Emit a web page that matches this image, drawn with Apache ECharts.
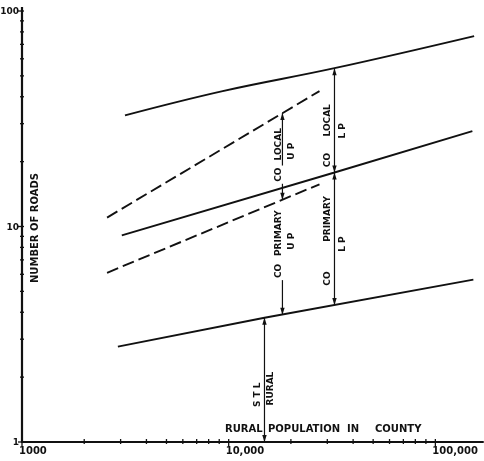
<!DOCTYPE html>
<html>
<head>
<meta charset="utf-8">
<script src="https://cdn.jsdelivr.net/npm/echarts@6/dist/echarts.min.js"></script>
<style>
  html, body { margin: 0; padding: 0; background: #fff; }
  #chart { width: 484px; height: 461px; }
</style>
</head>
<body>
<div id="chart"></div>
<script>
// Number of roads against rural population in county, both on log scales.
const xMajorTicks = [1000, 10000, 100000];
const xMinorTicks = [2000, 3000, 4000, 5000, 6000, 7000, 8000, 9000,
                     20000, 30000, 40000, 50000, 60000, 70000, 80000, 90000];
const yMajorTicks = [1, 10, 100];
const yMinorTicks = [2, 3, 4, 5, 6, 7, 8, 9, 20, 30, 40, 50, 60, 70, 80, 90];

// Trend lines: [rural population, number of roads]
const stlRural    = [[2910, 2.77], [14900, 3.77], [152700, 5.67]];
const coPrimaryLP = [[3040, 9.1], [32500, 17.8], [151000, 27.7]];
const coLocalLP   = [[3150, 32.8], [9350, 42.5], [32500, 54.3], [154000, 76.5]];
const coPrimaryUP = [[2580, 6.1], [27500, 15.7]];
const coLocalUP   = [[2580, 11.0], [27500, 42.5]];

// Ratio arrows between lines: population, lower end, upper end
const arrowX    = [14900, 18200, 18200, 32500, 32500];
const arrowLow  = [1, 13.3, 3.9, 17.8, 4.32];
const arrowHigh = [3.77, 33.6, 13.3, 54.3, 17.8];
const arrowLeftText  = [['S T L'], ['LOCAL', 'CO'], ['PRIMARY', 'CO'], ['LOCAL', 'CO'], ['PRIMARY', 'CO']];
const arrowRightText = ['RURAL', 'U P', 'U P', 'L P', 'L P'];

const INK = '#111';
const FONT = '"DejaVu Sans", "Liberation Sans", sans-serif';

// Label placement along each arrow (fractions measured from the top end)
const arrowLayout = [
  { dxL: -7,   dxR: 6, fL: [0.62],      fR: 0.57, headTop: true, headBottom: true, lineFrom: 0 },
  { dxL: -3.5, dxR: 9, fL: [0.36, 0.71], fR: 0.44, headTop: true, headBottom: true, lineFrom: 0 },
  { dxL: -3.5, dxR: 9, fL: [0.29, 0.62], fR: 0.36, headTop: false, headBottom: true, lineFrom: 0.6 },
  { dxL: -6.5, dxR: 8, fL: [0.50, 0.88], fR: 0.60, headTop: true, headBottom: true, lineFrom: 0 },
  { dxL: -6.5, dxR: 8, fL: [0.35, 0.80], fR: 0.54, headTop: true, headBottom: true, lineFrom: 0 }
];

function fmtTick(v) {
  return v >= 10000 ? v.toLocaleString('en-US') : String(v);
}

const tickData = [];
xMajorTicks.forEach(v => tickData.push([v, 1, 0, 1]));
xMinorTicks.forEach(v => tickData.push([v, 1, 0, 0]));
yMajorTicks.forEach(v => tickData.push([1000, v, 1, 1]));
yMinorTicks.forEach(v => tickData.push([1000, v, 1, 0]));

const arrowData = arrowX.map((x, i) => [x, arrowLow[i], arrowHigh[i], i]);

function renderTick(params, api) {
  const x = api.value(0), y = api.value(1);
  const isY = api.value(2), major = api.value(3);
  const p = api.coord([x, y]);
  const kids = [];
  if (!isY) {
    kids.push({ type: 'line', shape: { x1: p[0], y1: p[1] - 3, x2: p[0], y2: p[1] + (major ? 4 : 2) },
      style: { stroke: INK, lineWidth: 1.3 } });
    if (major) {
      kids.push({ type: 'text', x: p[0] - 3, y: p[1] + 4,
        style: { text: fmtTick(x), font: 'bold 10px ' + FONT, fill: INK, align: 'left', verticalAlign: 'top' } });
    }
  } else {
    kids.push({ type: 'line', shape: { x1: p[0] - (major ? 4 : 2), y1: p[1], x2: p[0] + 2, y2: p[1] },
      style: { stroke: INK, lineWidth: 1.3 } });
    if (major) {
      kids.push({ type: 'text', x: p[0] - 3, y: p[1] + 1,
        style: { text: fmtTick(y), font: 'bold 9px ' + FONT, fill: INK, align: 'right', verticalAlign: 'middle' } });
    }
  }
  return { type: 'group', children: kids };
}

function vText(text, x, y, bg) {
  const el = { type: 'text', x: x, y: y, rotation: Math.PI / 2,
    style: { text: text, font: 'bold 9px ' + FONT, fill: INK, align: 'center', verticalAlign: 'middle' } };
  if (bg) {
    el.style.backgroundColor = '#fff';
    el.style.padding = [1, 2];
  }
  return el;
}

function renderArrow(params, api) {
  const i = api.value(3);
  const lay = arrowLayout[i];
  const lo = api.coord([api.value(0), api.value(1)]);
  const hi = api.coord([api.value(0), api.value(2)]);
  const x = hi[0], top = hi[1], bot = lo[1], len = bot - top;
  const kids = [];
  kids.push({ type: 'line', shape: { x1: x, y1: top + len * lay.lineFrom, x2: x, y2: bot },
    style: { stroke: INK, lineWidth: 1.2 } });
  if (lay.headTop) {
    kids.push({ type: 'polygon', shape: { points: [[x, top], [x - 2.2, top + 7], [x + 2.2, top + 7]] },
      style: { fill: INK } });
  }
  if (lay.headBottom) {
    kids.push({ type: 'polygon', shape: { points: [[x, bot], [x - 2.2, bot - 7], [x + 2.2, bot - 7]] },
      style: { fill: INK } });
  }
  arrowLeftText[i].forEach((t, k) => {
    kids.push(vText(t, x + lay.dxL, top + len * lay.fL[k], t === 'CO' && lay.dxL > -5));
  });
  kids.push(vText(arrowRightText[i], x + lay.dxR, top + len * lay.fR, false));
  return { type: 'group', children: kids };
}

const solid = { color: INK, width: 1.9 };
const dashed = { color: INK, width: 1.9, type: [12, 5] };

function lineSeries(name, data, style, smooth) {
  return { name: name, type: 'line', data: data, showSymbol: false, symbol: 'none',
    smooth: smooth || false, lineStyle: style, silent: true, z: 3 };
}

const chart = echarts.init(document.getElementById('chart'), null, { renderer: 'canvas' });
chart.setOption({
  animation: false,
  backgroundColor: '#fff',
  grid: { left: 22, right: 1, top: 11, bottom: 19 },
  xAxis: {
    type: 'log', logBase: 10, min: 1000, max: 170000,
    axisLine: { onZero: false, lineStyle: { color: INK, width: 2 } },
    axisTick: { show: false }, axisLabel: { show: false }, splitLine: { show: false }
  },
  yAxis: {
    type: 'log', logBase: 10, min: 1, max: 100,
    axisLine: { onZero: false, lineStyle: { color: INK, width: 2.2 } },
    axisTick: { show: false }, axisLabel: { show: false }, splitLine: { show: false }
  },
  graphic: [
    { type: 'line', shape: { x1: 22, y1: 7, x2: 22, y2: 12 }, style: { stroke: INK, lineWidth: 2.2 } },
    { type: 'text', x: 35, y: 228, rotation: Math.PI / 2,
      style: { text: 'NUMBER OF ROADS', font: 'bold 10px ' + FONT, fill: INK, align: 'center', verticalAlign: 'middle' } },
    { type: 'text', x: 225, y: 429,
      style: { text: 'RURAL', font: 'bold 10px ' + FONT, fill: INK, align: 'left', verticalAlign: 'middle' } },
    { type: 'text', x: 268, y: 429,
      style: { text: 'POPULATION', font: 'bold 10px ' + FONT, fill: INK, align: 'left', verticalAlign: 'middle' } },
    { type: 'text', x: 347, y: 429,
      style: { text: 'IN', font: 'bold 10px ' + FONT, fill: INK, align: 'left', verticalAlign: 'middle' } },
    { type: 'text', x: 375, y: 429,
      style: { text: 'COUNTY', font: 'bold 10px ' + FONT, fill: INK, align: 'left', verticalAlign: 'middle' } }
  ],
  series: [
    lineSeries('STL rural', stlRural, solid),
    lineSeries('CO primary LP', coPrimaryLP, solid),
    lineSeries('CO local LP', coLocalLP, solid, 0.4),
    lineSeries('CO primary UP', coPrimaryUP, dashed),
    lineSeries('CO local UP', coLocalUP, dashed),
    { type: 'custom', name: 'ratios', data: arrowData, renderItem: renderArrow,
      encode: { x: 0, y: 2 }, clip: false, silent: true, z: 4 },
    { type: 'custom', name: 'ticks', data: tickData, renderItem: renderTick,
      encode: { x: 0, y: 1 }, clip: false, silent: true, z: 5 }
  ]
});
</script>
</body>
</html>
